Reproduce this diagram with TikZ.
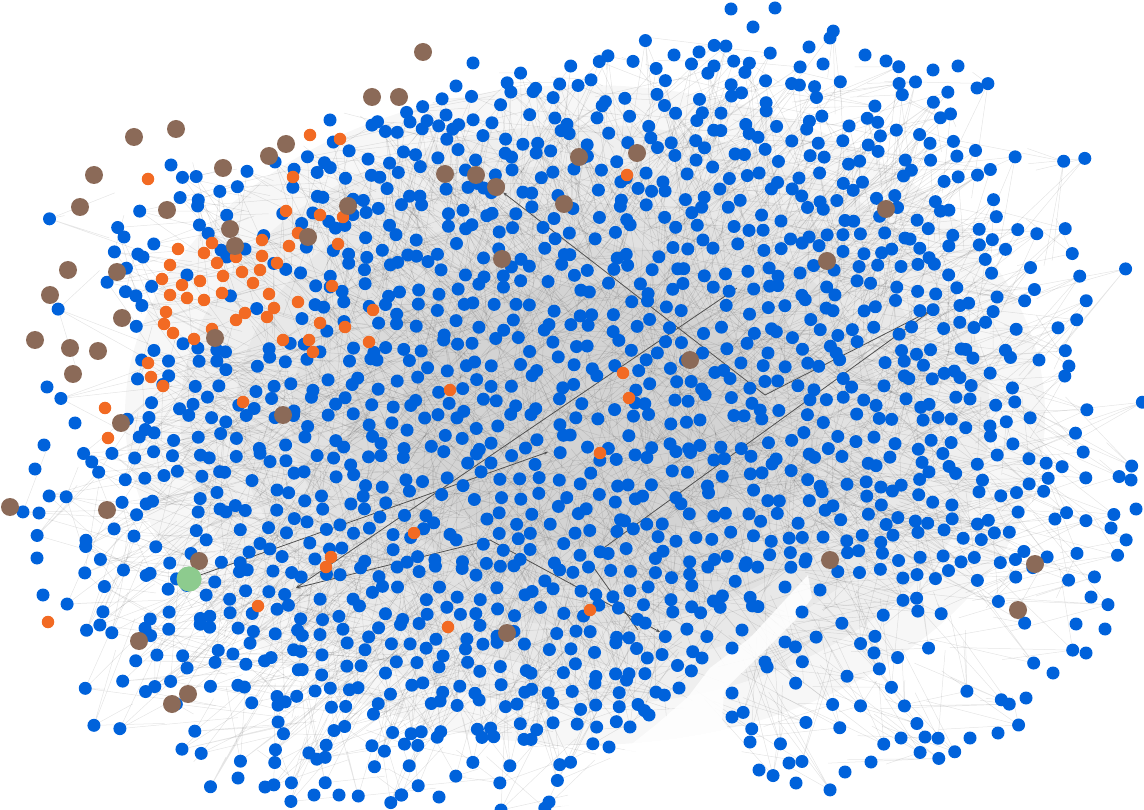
\documentclass[tikz,border=0pt]{standalone}
\usetikzlibrary{arrows.meta}
\definecolor{nblue}{HTML}{0062DB}
\definecolor{nbrown}{HTML}{8B6A58}
\definecolor{norange}{HTML}{F26A23}
\definecolor{ngreen}{HTML}{8DCB8E}
\definecolor{edgedark}{HTML}{505050}
\tikzset{
 bn/.style={circle,fill=nblue,inner sep=0pt,minimum size=13pt},
 onode/.style={circle,fill=norange,inner sep=0pt,minimum size=12.5pt},
 brn/.style={circle,fill=nbrown,inner sep=0pt,minimum size=18pt},
 gn/.style={circle,fill=ngreen,inner sep=0pt,minimum size=25pt},
 darkedge/.style={edgedark,line width=0.8pt,-{Stealth[length=4pt,width=3pt]}},
 darkline/.style={edgedark,line width=0.8pt},
}
% #1 = 1: faint edges, 2: blue dots (same random sequence in both passes)
\newcommand\gridpass[1]{%
\pgfmathsetseed{20231}%
\foreach \i in {0,...,60}{%
\foreach \j in {0,...,43}{%
\pgfmathsetmacro\px{19*\i+5+8.5*rand}%
\pgfmathsetmacro\py{19*\j+4+8.5*rand}%
\pgfmathsetmacro\s{(abs(\px-575)/520)^3+(abs(\py-425)/380)^3}%
\pgfmathsetmacro\p{\s<0.4 ? 0.97 : (\s<1.05 ? 0.97-0.95*(\s-0.4) : (\s<1.3 ? 0.1 : 0))}%
\pgfmathsetmacro\f{(\px>725 && \py>585) ? 0.48 : ((\px>150 && \px<300 && \py>235 && \py<345) ? 0.3 : ((\px<125 && \py<420) ? 0.3 : ((\px<120 && \py<570) ? 0.6 : ((\px<300 && \py<240) ? 0.6 : 1))))}%
\pgfmathsetmacro\t{(\px<560 && \py<150-0.33*(\px-250)) ? 0 : 1}%
\pgfmathtruncatemacro\gap{(\py>555 && (\py>566+0.94*(805-\px)) && (\px<(\py<740 ? max(724,821-0.86*(\py-585)) : 741))) ? 1 : 0}%
\pgfmathtruncatemacro\keep{(rnd<\p*\f*\t && \gap==0) ? 1 : 0}%
\ifnum\keep=1
 \pgfmathsetmacro\axa{\px+65*rand+0.15*(575-\px)}%
 \pgfmathsetmacro\aya{\py+65*rand+0.15*(425-\py)}%
 \pgfmathsetmacro\axb{\px+65*rand+0.15*(575-\px)}%
 \pgfmathsetmacro\ayb{\py+65*rand+0.15*(425-\py)}%
 \pgfmathsetmacro\axc{\px+65*rand+0.15*(575-\px)}%
 \pgfmathsetmacro\ayc{\py+65*rand+0.15*(425-\py)}%
 \pgfmathsetmacro\axd{\px+65*rand+0.15*(575-\px)}%
 \pgfmathsetmacro\ayd{\py+65*rand+0.15*(425-\py)}%
 \ifnum#1=1
  \draw (\px,\py) -- (\axa,\aya) (\px,\py) -- (\axb,\ayb) (\px,\py) -- (\axc,\ayc) (\px,\py) -- (\axd,\ayd);
 \else
  \fill[nblue] (\px,\py) circle[radius=6.5pt];
 \fi
\fi
}}}
\begin{document}
\begin{tikzpicture}[x=1pt,y=-1pt]
\useasboundingbox (0,0) rectangle (1144,810);
% soft grey haze of the dense core
\foreach \k in {1.0,0.88,0.76,0.64,0.52,0.4}
 \fill[black,opacity=0.03] (585,415) ellipse [x radius=\k*460, y radius=\k*330];
\begin{scope}[draw=black,draw opacity=0.10,line width=0.5pt]
\gridpass{1}
\end{scope}
% the empty wedge between the main mass and the lower right group
\fill[white,opacity=0.85] (808,575) -- (750,638) -- (710,668) -- (688,697) -- (657,724) -- (617,756) -- (555,812)
 -- (748,812) -- (740,745) -- (722,720) -- (724,690) -- (760,655) -- (795,620) -- (812,598) -- cycle;
% dark connectors' end points
\coordinate (c1) at (765,395);
\coordinate (c2) at (932,310);
\coordinate (c3) at (594,555);
\coordinate (c4) at (548,452);
\coordinate (c5) at (296,588);
\coordinate (c6) at (737,288);
\coordinate (c7) at (490,540);
\coordinate (c8) at (660,632);
\coordinate (c9) at (594,568);
\coordinate (c10) at (638,630);
\node[brn] (brA) at (496,187) {};
\node[gn] (g) at (189,579) {};
\draw[darkedge] (c1) -- (brA);
\draw[darkline] (c1) -- (c2);
\draw[darkedge] (c2) -- (c3);
\draw[darkedge] (g) -- (c4);
\draw[darkedge] (c6) -- (c5);
\draw[darkedge] (c7) -- (c8);
\draw[darkedge] (c7) -- (c5);
\draw[darkline] (c9) -- (c10);
\gridpass{2}
% extra blue nodes at the rim
\foreach \x/\y [count=\k] in {731/9,775/8,753/27,674/55,699/52,714/66,809/47,830/38,823/64,865/55,886/61,933/70,958/66,977/88,
 1131/480,1136/509,1111/528,171/165,124/237,143/257,47/387,75/423,44/445,35/469,39/513,37/558,43/595,
 238/778,265/787,314/795,339/795,401/795,439/797,549/802,
 871/762,901/738,925/737,970/738,998/733,1026/698,1053/673,1086/653,1105/629,1076/624,1091/597,
 796/783,845/772,759/770,789/763,732/693,732/717,750/742,765/662,785/642,802/612,820/590,
 609/747,649/715,679/688,702/658,732/648,742/630,785/587,805/562,456/86,473/63,446/115,410/122,330/120}
 \node[bn] (x\k) at (\x,\y) {};
% orange nodes
\foreach \x/\y [count=\k] in {148/179,310/135,340/139,293/177,286/211,320/215,343/217,298/233,289/246,338/244,627/175,
 212/243,178/249,204/253,217/263,236/257,262/240,262/256,170/265,277/263,
 162/279,182/285,200/281,223/276,242/272,260/270,170/295,187/298,204/300,222/293,253/283,269/294,
 166/312,164/324,173/333,194/339,212/329,236/320,245/313,267/317,274/308,283/340,148/363,151/377,163/386,
 243/402,105/408,108/438,332/286,298/302,373/310,320/323,345/327,309/340,369/342,313/352,450/390,414/533,
 623/373,629/398,600/453,331/557,326/567,448/627,590/610,48/622,258/606}
 \node[onode] (o\k) at (\x,\y) {};
% brown nodes
\foreach \x/\y [count=\k] in {423/52,372/97,399/97,134/137,176/129,94/175,80/207,167/210,223/168,269/156,286/144,
 230/229,235/246,68/270,117/272,50/295,35/340,70/348,98/351,73/374,122/318,215/338,121/423,283/415,
 10/507,107/510,199/561,139/641,188/694,172/704,348/206,308/237,445/174,476/175,502/259,564/204,
 579/157,637/153,886/209,827/261,690/360,507/633,830/560,1035/564,1018/610}
 \node[brn] (r\k) at (\x,\y) {};
\node[brn] at (brA) {};
\node[gn] at (g) {};
\end{tikzpicture}
\end{document}
